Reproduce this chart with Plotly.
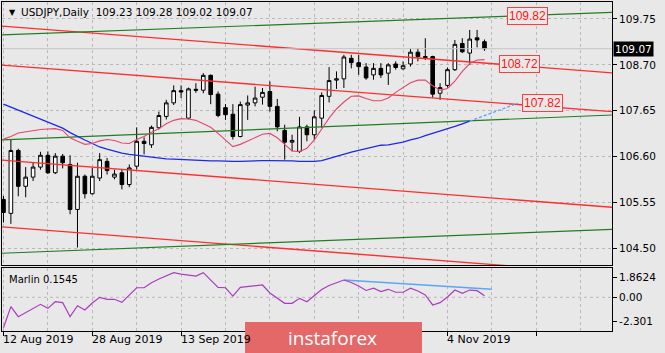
import plotly.graph_objects as go
import pandas as pd

# ---------------- data ----------------
dates = pd.bdate_range("2019-08-12", "2019-11-11")  # 66 daily bars
bars = list(range(len(dates)))

opens = [105.62, 105.30, 106.74, 105.92, 106.13, 106.36, 106.63, 106.23, 106.61, 106.42,
         105.39, 106.15, 105.75, 106.11, 106.49, 106.13, 106.23, 105.96, 106.38, 106.95,
         106.87, 107.26, 107.52, 107.83, 108.11, 107.48, 108.14, 108.12, 108.46, 108.03,
         107.72, 107.57, 107.06, 107.78, 107.83, 107.96, 108.09, 107.75, 107.20, 106.93,
         106.72, 107.28, 107.10, 107.48, 107.98, 108.35, 108.38, 108.85, 108.75, 108.65,
         108.47, 108.62, 108.51, 108.72, 108.61, 108.72, 108.99, 108.89, 108.89, 108.05,
         108.23, 108.59, 109.19, 108.97, 109.32, 109.23]
highs = [105.70, 106.99, 106.78, 106.36, 106.46, 106.71, 106.72, 106.68, 106.66, 106.63,
         106.46, 106.19, 106.34, 106.68, 106.57, 106.30, 106.30, 106.42, 107.27, 107.04,
         107.31, 107.63, 107.90, 108.23, 108.23, 108.18, 108.28, 108.51, 108.48, 108.09,
         107.80, 107.80, 107.86, 108.00, 108.20, 108.17, 108.32, 107.92, 107.33, 107.10,
         107.51, 107.33, 107.66, 108.07, 108.65, 108.55, 108.93, 108.93, 108.93, 108.74,
         108.74, 108.74, 108.74, 108.78, 108.78, 109.07, 109.08, 109.31, 108.91, 108.28,
         108.64, 109.27, 109.31, 109.50, 109.50, 109.28]
lows = [105.09, 105.06, 105.69, 105.67, 106.04, 106.30, 106.20, 106.20, 106.33, 105.28,
        104.52, 105.64, 105.73, 106.04, 106.19, 106.08, 105.85, 105.90, 106.30, 106.65,
        106.80, 107.22, 107.45, 107.78, 107.94, 107.45, 108.06, 108.05, 107.80, 107.50,
        107.44, 106.99, 107.04, 107.44, 107.75, 107.79, 107.63, 107.18, 106.53, 106.72,
        106.68, 106.95, 106.99, 107.26, 107.84, 108.15, 108.17, 108.62, 108.47, 108.36,
        108.36, 108.40, 108.24, 108.59, 108.59, 108.66, 108.78, 108.81, 107.95, 107.90,
        108.18, 108.56, 108.97, 108.70, 109.10, 109.02]
closes = [105.32, 106.74, 105.92, 106.13, 106.36, 106.63, 106.23, 106.61, 106.46, 105.39,
          106.15, 105.75, 106.15, 106.53, 106.28, 106.20, 105.96, 106.34, 106.95, 106.90,
          107.27, 107.54, 107.83, 108.11, 108.08, 108.15, 108.12, 108.46, 108.02, 107.54,
          107.56, 107.06, 107.79, 107.83, 107.94, 108.07, 107.75, 107.28, 106.93, 106.97,
          107.28, 107.10, 107.51, 108.00, 108.34, 108.38, 108.88, 108.75, 108.66, 108.40,
          108.62, 108.47, 108.70, 108.64, 108.68, 108.99, 108.89, 108.87, 108.03, 108.18,
          108.59, 109.17, 109.00, 109.29, 109.27, 109.07]

ma_fast = [107.00, 107.06, 107.14, 107.17, 107.20, 107.22, 107.23, 107.24, 107.20, 107.03,
           106.95, 106.88, 106.90, 106.96, 106.99, 106.97, 106.91, 106.90, 106.99, 107.06,
           107.16, 107.24, 107.35, 107.43, 107.47, 107.46, 107.43, 107.35, 107.27, 107.13,
           106.97, 106.83, 106.88, 106.96, 107.04, 107.11, 107.13, 107.03, 106.88, 106.73,
           106.71, 106.79, 106.98, 107.23, 107.48, 107.69, 107.85, 107.98, 107.99, 107.93,
           107.88, 107.88, 107.94, 108.07, 108.19, 108.29, 108.35, 108.35, 108.22, 108.12,
           108.16, 108.33, 108.55, 108.73, 108.81, 108.82]
ma_slow = [107.80, 107.73, 107.66, 107.59, 107.52, 107.46, 107.39, 107.32, 107.25, 107.15,
           107.06, 106.98, 106.90, 106.82, 106.77, 106.72, 106.68, 106.65, 106.63, 106.60,
           106.58, 106.56, 106.55, 106.54, 106.53, 106.52, 106.51, 106.51, 106.50, 106.50,
           106.49, 106.49, 106.49, 106.50, 106.50, 106.51, 106.51, 106.51, 106.50, 106.50,
           106.49, 106.49, 106.49, 106.51, 106.56, 106.61, 106.65, 106.70, 106.74, 106.78,
           106.82, 106.86, 106.87, 106.90, 106.93, 106.98, 107.02, 107.08, 107.13, 107.18,
           107.24, 107.29, 107.35, 107.41]
ma_projection_bars = [63, 69.5]
ma_projection_vals = [107.41, 107.82]

marlin = [-2.89, -0.89, -1.84, -1.44, -1.05, -0.67, -1.05, -0.42, -0.51, -1.84,
          -0.80, -1.21, -0.54, 0.00, -0.19, -0.19, -0.48, 0.22, 0.91, 0.91,
          1.39, 1.74, 2.02, 2.34, 2.21, 2.12, 2.02, 2.34, 1.64, 0.95,
          0.91, 0.12, 0.95, 1.03, 1.12, 1.17, 0.41, -0.11, -0.57, -0.57,
          -0.10, -0.42, 0.17, 0.74, 1.12, 1.36, 1.64, 1.41, 1.07, 0.65,
          0.86, 0.55, 0.76, 0.48, 0.48, 0.86, 0.60, 0.22, -0.73, -0.51,
          0.03, 0.69, 0.38, 0.69, 0.63, 0.1545]
marlin_trend_bars = [46, 66]
marlin_trend_vals = [1.64, 0.76]

# channel lines: price at bar -1 and at bar 83
line_bars = [-1, 83]
red_lines = [[109.597, 108.506], [108.704, 107.619], [106.529, 105.431], [105.002, 103.910]]
green_lines = [[109.381, 109.907], [106.976, 107.557], [104.382, 104.940]]

level_labels = ["109.82", "108.72", "107.82"]
level_bars = [70.8, 69.75, 72.84]
level_prices = [109.82, 108.727, 107.827]

price_ticks = [104.50, 105.55, 106.60, 107.65, 108.70, 109.75]
marlin_ticks = [1.8624, 0.0, -2.301]
marlin_ticktext = ["1.8624", "0.00", "-2.301"]
date_label_bars = [0, 12, 24, 60]

last_price = 109.07
title_text = "USDJPY,Daily  109.23 109.28 109.02 109.07"

# ---------------- figure ----------------
BG = "#e8e8e8"
GRID = "#b9b9b9"
FONT = "DejaVu Sans"

fig = go.Figure()

# channel lines
for pr in red_lines:
    fig.add_trace(go.Scatter(x=line_bars, y=pr, mode="lines",
                             line=dict(color="rgb(255,45,45)", width=1.4),
                             xaxis="x", yaxis="y", hoverinfo="skip", showlegend=False))
for pr in green_lines:
    fig.add_trace(go.Scatter(x=line_bars, y=pr, mode="lines",
                             line=dict(color="rgb(34,125,34)", width=1.2),
                             xaxis="x", yaxis="y", hoverinfo="skip", showlegend=False))

# current price line
fig.add_trace(go.Scatter(x=line_bars, y=[last_price, last_price], mode="lines",
                         line=dict(color="#c4c4c4", width=1),
                         xaxis="x", yaxis="y", hoverinfo="skip", showlegend=False))

# moving averages
fig.add_trace(go.Scatter(x=bars[:len(ma_slow)], y=ma_slow, mode="lines",
                         line=dict(color="rgb(30,40,235)", width=1.3),
                         xaxis="x", yaxis="y", showlegend=False))
fig.add_trace(go.Scatter(x=ma_projection_bars, y=ma_projection_vals, mode="lines",
                         line=dict(color="rgb(90,160,255)", width=1.3, dash="3px,2px"),
                         xaxis="x", yaxis="y", showlegend=False))
fig.add_trace(go.Scatter(x=bars, y=ma_fast, mode="lines",
                         line=dict(color="rgb(228,70,110)", width=1.1),
                         xaxis="x", yaxis="y", showlegend=False))

# candles
fig.add_trace(go.Candlestick(
    x=bars, open=opens, high=highs, low=lows, close=closes,
    increasing=dict(line=dict(color="black", width=1), fillcolor="white"),
    decreasing=dict(line=dict(color="black", width=1), fillcolor="black"),
    whiskerwidth=0, xaxis="x", yaxis="y", showlegend=False))

# Marlin panel
fig.add_trace(go.Scatter(x=marlin_trend_bars, y=marlin_trend_vals, mode="lines",
                         line=dict(color="rgb(90,165,250)", width=1.4),
                         xaxis="x2", yaxis="y2", showlegend=False))
fig.add_trace(go.Scatter(x=bars, y=marlin, mode="lines",
                         line=dict(color="rgb(170,60,190)", width=1.2),
                         xaxis="x2", yaxis="y2", showlegend=False))

xr = [-0.2, 82.23]
axis_common = dict(showline=True, mirror=True, linecolor="black", linewidth=1)

fig.update_layout(
    width=665, height=353,
    margin=dict(l=2, r=53, t=2, b=22),
    paper_bgcolor=BG, plot_bgcolor=BG,
    font=dict(family=FONT, size=11, color="black"),
    showlegend=False,
    boxgap=0.3,
    xaxis=dict(domain=[0, 1], range=xr, anchor="y", showticklabels=False,
               tickmode="linear", tick0=0, dtick=6, ticks="",
               showgrid=True, gridcolor=GRID, griddash="3px,3px", gridwidth=1,
               zeroline=False, rangeslider=dict(visible=False), **axis_common),
    yaxis=dict(domain=[0.1991, 1], range=[104.107, 110.139], side="right",
               tickmode="array", tickvals=price_ticks,
               ticktext=[f"{v:.2f}" for v in price_ticks],
               ticks="outside", ticklen=4, tickcolor="black",
               tickfont=dict(family=FONT, size=10.5),
               showgrid=True, gridcolor=GRID, griddash="3px,3px", zeroline=False,
               **axis_common),
    xaxis2=dict(domain=[0, 1], range=xr, anchor="y2", matches="x",
                showticklabels=False, tickmode="linear", tick0=0, dtick=12,
                ticks="outside", ticklen=4, tickcolor="black",
                showgrid=True, gridcolor=GRID, griddash="3px,3px",
                minor=dict(tick0=0, dtick=6, showgrid=True, gridcolor=GRID,
                           griddash="3px,3px", ticks=""),
                zeroline=False, **axis_common),
    yaxis2=dict(domain=[0, 0.1915], range=[-3.203, 2.785], side="right",
                tickmode="array", tickvals=marlin_ticks, ticktext=marlin_ticktext,
                ticks="outside", ticklen=4, tickcolor="black",
                tickfont=dict(family=FONT, size=10.5),
                showgrid=False, zeroline=False, **axis_common),
)

# dashed zero level in Marlin panel
fig.add_shape(type="line", xref="x2 domain", yref="y2", x0=0, x1=1, y0=0, y1=0,
              line=dict(color=GRID, width=1, dash="3px,3px"), layer="below")

annotations = []
# title
annotations.append(dict(xref="paper", yref="paper", x=0.0075, y=0.9696, xanchor="left",
                        yanchor="middle", text="▼", showarrow=False,
                        font=dict(family=FONT, size=8, color="black")))
annotations.append(dict(xref="paper", yref="paper", x=0.0275, y=0.9696, xanchor="left",
                        yanchor="middle", text=title_text, showarrow=False,
                        font=dict(family=FONT, size=10.5, color="black")))
# Marlin label
annotations.append(dict(xref="paper", yref="paper", x=0.0075, y=0.158, xanchor="left",
                        yanchor="middle", text=f"Marlin {marlin[-1]:.4f}", showarrow=False,
                        font=dict(family=FONT, size=10, color="black")))
# date labels
for b in date_label_bars:
    d = dates[b]
    annotations.append(dict(xref="x2", yref="paper", x=b, y=-0.027, xanchor="left",
                            yanchor="middle", xshift=-2,
                            text=f"{d.day} {d.strftime('%b %Y')}", showarrow=False,
                            font=dict(family=FONT, size=11, color="black")))
# level labels
for t, b, p in zip(level_labels, level_bars, level_prices):
    annotations.append(dict(xref="x", yref="y", x=b, y=p, text=t, showarrow=False,
                            font=dict(family="Liberation Sans", size=12, color="rgb(255,20,20)"),
                            bgcolor=BG, bordercolor="rgb(255,60,60)", borderwidth=1,
                            borderpad=1))
# current price tag
annotations.append(dict(xref="paper", yref="y", x=1.0, y=last_price, xanchor="left",
                        yanchor="middle", text=f"{last_price:.2f}", showarrow=False,
                        font=dict(family=FONT, size=10.5, color="white"),
                        bgcolor="black", borderpad=1, xshift=1))
# watermark
fig.add_shape(type="rect", xref="paper", yref="paper", x0=0.3984, x1=0.6885,
              y0=-0.07, y1=0.0274, fillcolor="rgb(228,104,104)", line=dict(width=0),
              layer="above")
annotations.append(dict(xref="paper", yref="paper", x=0.541, y=-0.022, xanchor="center",
                        yanchor="middle", text="instaforex", showarrow=False,
                        font=dict(family="Open Sans", size=19, color="white")))

fig.update_layout(annotations=annotations)
fig.write_html("out.html")
